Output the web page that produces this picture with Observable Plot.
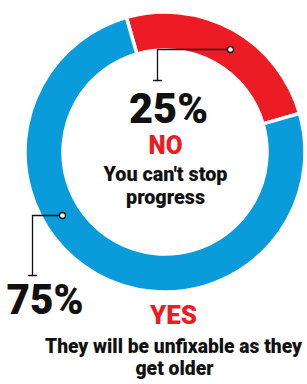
<!DOCTYPE html>
<html>
<head>
<meta charset="utf-8">
<script src="https://cdn.jsdelivr.net/npm/d3@7"></script>
<script src="https://cdn.jsdelivr.net/npm/@observablehq/plot@0.6"></script>
<style>
  html, body { margin: 0; padding: 0; background: #fff; }
  svg { display: block; }
</style>
</head>
<body>
<div id="chart"></div>
<script>
// Data
const answers = ["NO", "YES"];
const shares = [25, 75];
const percentLabels = ["25%", "75%"];
const descriptions = [["You can't stop", "progress"], ["They will be unfixable as they", "get older"]];
const colors = ["#ED1C24", "#0A9BDA"];

const W = 307, H = 384;
const cx = 165, cy = 152, rOuter = 140, rInner = 102;
const startDeg = -16;

const slices = answers.map((a, i) => ({answer: a, value: shares[i], color: colors[i]}));
const pie = d3.pie().sort(null).value(d => d.value).startAngle(startDeg * Math.PI / 180).endAngle((startDeg + 360) * Math.PI / 180);
const arcs = pie(slices);

const font = "Roboto, 'Noto Sans', sans-serif";

function donutMark(index, scales, values, dims) {
  const g = d3.create("svg:g");
  const ox = scales.x(cx), oy = scales.y(cy);
  const ro = scales.x(cx + rOuter) - ox, ri = scales.x(cx + rInner) - ox;
  const arc = d3.arc().innerRadius(ri).outerRadius(ro);
  g.attr("transform", `translate(${ox},${oy})`);
  g.selectAll("path").data(arcs).join("path")
    .attr("d", arc)
    .attr("fill", d => d.data.color)
    .attr("stroke", "#fff")
    .attr("stroke-width", 3.5);
  return g.node();
}

const leaders = [
  {id: 0, pts: [[230, 49], [157, 49], [157, 80]], tick: [[153, 80], [161, 80]]},
  {id: 1, pts: [[62, 215], [32, 215], [32, 275]], tick: [[28, 275], [36, 275]]}
];
const leaderLines = leaders.flatMap(l => l.pts.map(([x, y]) => ({id: l.id, x, y})));
const tickLines = leaders.flatMap(l => l.tick.map(([x, y]) => ({id: l.id, x, y})));
const leaderDots = leaders.map(l => ({x: l.pts[0][0], y: l.pts[0][1]}));

// text layout: [text, x, baseline y, size, color, anchor, target width]
const texts = [
  [percentLabels[0], 168, 122, 42, "#111", "middle", 79],
  [percentLabels[1], 6, 313, 42, "#111", "start", 77],
  [answers[0], 165, 153, 25, colors[0], "middle", 34],
  [answers[1], 173, 323, 25, colors[0], "middle", 47],
  [descriptions[0][0], 165, 180, 19.5, "#111", "middle", 124],
  [descriptions[0][1], 165, 203, 19.5, "#111", "middle", 79],
  [descriptions[1][0], 173, 352, 19.5, "#111", "middle", 257],
  [descriptions[1][1], 174, 374, 19.5, "#111", "middle", 78]
];

const textMarks = texts.map(([t, x, y, fs, c, anchor, w]) =>
  Plot.text([t], {
    x: () => x, y: () => y, text: d => d,
    fontSize: fs, fontWeight: 900, fill: c,
    textAnchor: anchor, lineAnchor: "bottom",
    render(index, scales, values, dims, context, next) {
      const g = next(index, scales, values, dims, context);
      d3.select(g).selectAll("text")
        .attr("textLength", w)
        .attr("lengthAdjust", "spacingAndGlyphs")
        .attr("dy", null);
      return g;
    }
  })
);

const plot = Plot.plot({
  width: W, height: H,
  margin: 0,
  x: {domain: [0, W], axis: null},
  y: {domain: [H, 0], axis: null},
  style: {fontFamily: font, background: "#fff"},
  marks: [
    donutMark,
    Plot.line(leaderLines, {x: "x", y: "y", z: "id", stroke: "#111", strokeWidth: 1.3}),
    Plot.line(tickLines, {x: "x", y: "y", z: "id", stroke: "#111", strokeWidth: 1.3}),
    Plot.dot(leaderDots, {x: "x", y: "y", r: 3, fill: "#fff", stroke: "#111", strokeWidth: 1.3}),
    ...textMarks
  ]
});
document.getElementById("chart").appendChild(plot);
</script>
</body>
</html>
